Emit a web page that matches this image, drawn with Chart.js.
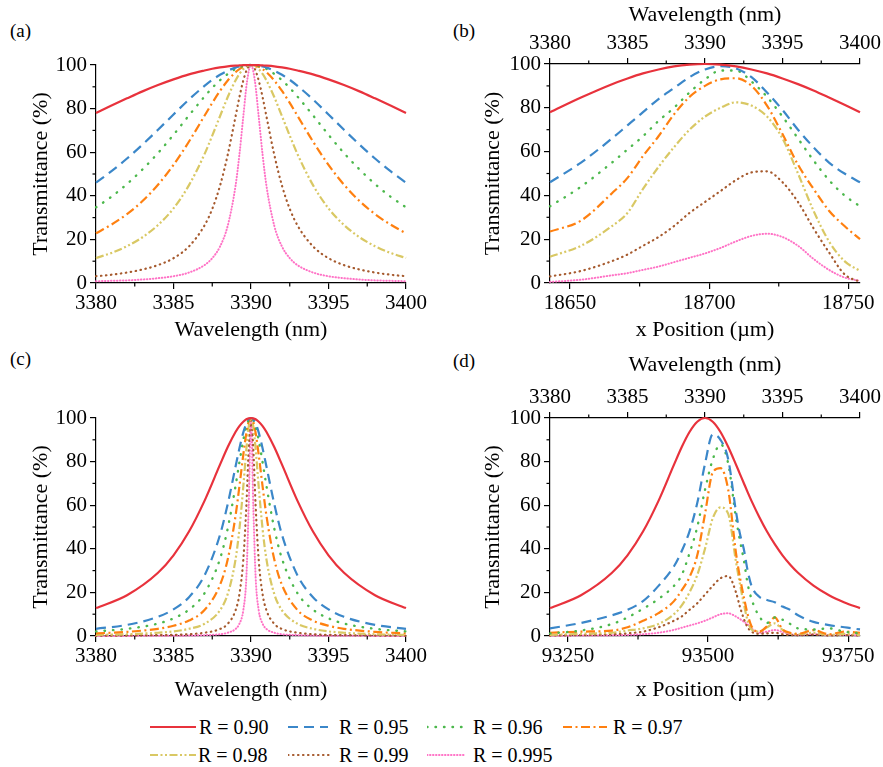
<!DOCTYPE html>
<html>
<head>
<meta charset="utf-8">
<script src="https://cdn.jsdelivr.net/npm/chart.js@4.4.0/dist/chart.umd.min.js"></script>
<style>
  body { margin: 0; background: #fff; width: 883px; height: 767px; position: relative; overflow: hidden; color: #000; }
  canvas { position: absolute; }
  .lab { position: absolute; font-family: 'Liberation Serif'; font-size: 19px; line-height: 22px; }
  .leg { position: absolute; height: 24px; }
  .leg svg { position: absolute; top: 7px; }
  .leg span { position: absolute; font-family: 'Liberation Serif'; font-size: 20px; line-height: 24px; white-space: nowrap; }
</style>
</head>
<body>
<div class="lab" style="left:10px;top:20px">(a)</div>
<div class="lab" style="left:453px;top:20px">(b)</div>
<div class="lab" style="left:10px;top:348px">(c)</div>
<div class="lab" style="left:453px;top:350px">(d)</div>

<canvas id="chartA" width="440" height="345" style="left:0;top:0"></canvas>
<canvas id="chartB" width="443" height="345" style="left:440px;top:0"></canvas>
<canvas id="chartC" width="440" height="365" style="left:0;top:340px"></canvas>
<canvas id="chartD" width="443" height="365" style="left:440px;top:340px"></canvas>
<div id="legend"></div>

<script>
// ---- données ----
const seriesLabels = ['R = 0.90', 'R = 0.95', 'R = 0.96', 'R = 0.97', 'R = 0.98', 'R = 0.99', 'R = 0.995']

// axes
const waveTicks = [3380, 3385, 3390, 3395, 3400]
const waveMinor = [3382.5, 3387.5, 3392.5, 3397.5]
const transTicks = [0, 20, 40, 60, 80, 100]
const transMinor = [10, 30, 50, 70, 90]
const posTicksB = [18650, 18700, 18750]
const posMinorB = [18675, 18725]
const posRangeB = [18642.8, 18754.2]
const posTicksD = [93250, 93500, 93750]
const posMinorD = [93375, 93625]
const posRangeD = [93218, 93771]

// (a)
const gridA = [3380, 3381, 3382, 3383, 3384, 3385, 3386, 3387, 3387.5, 3388, 3388.5, 3389, 3389.25, 3389.5, 3389.75, 3390,
  3390.25, 3390.5, 3390.75, 3391, 3391.5, 3392, 3392.5, 3393, 3394, 3395, 3396, 3397, 3398, 3399, 3400]
const a90 = [78.0, 81.4, 84.7, 87.9, 90.8, 93.4, 95.7, 97.5, 98.3, 98.9, 99.4, 99.7, 99.8, 99.9, 100, 100, 100, 99.9, 99.8, 99.7, 99.4, 98.9, 98.3, 97.5, 95.7, 93.4, 90.8, 87.9, 84.7, 81.4, 78.0]
const a95 = [46.0, 51.3, 57.1, 63.5, 70.3, 77.3, 84.2, 90.4, 93.2, 95.5, 97.4, 98.8, 99.3, 99.7, 99.9, 100, 99.9, 99.7, 99.3, 98.8, 97.4, 95.5, 93.2, 90.4, 84.2, 77.3, 70.3, 63.5, 57.1, 51.3, 46.0]
const a96 = [34.7, 39.6, 45.4, 52.1, 59.6, 68.0, 76.9, 85.5, 89.5, 93.0, 95.9, 98.2, 98.9, 99.5, 99.9, 100, 99.9, 99.5, 98.9, 98.2, 95.9, 93.0, 89.5, 85.5, 76.9, 68.0, 59.6, 52.1, 45.4, 39.6, 34.7]
const a97 = [22.8, 26.8, 31.6, 37.6, 45.1, 54.2, 64.9, 76.7, 82.6, 88.1, 92.9, 96.7, 98.1, 99.2, 99.8, 100, 99.8, 99.2, 98.1, 96.7, 92.9, 88.1, 82.6, 76.7, 64.9, 54.2, 45.1, 37.6, 31.6, 26.8, 22.8]
const a98 = [11.5, 13.8, 16.9, 21.0, 26.6, 34.2, 44.9, 59.1, 67.6, 76.5, 85.3, 92.9, 95.9, 98.1, 99.5, 100, 99.5, 98.1, 95.9, 92.9, 85.3, 76.5, 67.6, 59.1, 44.9, 34.2, 26.6, 21.0, 16.9, 13.8, 11.5]
const a99 = [3.1, 3.8, 4.8, 6.2, 8.2, 11.4, 16.8, 26.4, 34.0, 44.6, 58.9, 76.3, 85.2, 92.8, 98.1, 100, 98.1, 92.8, 85.2, 76.3, 58.9, 44.6, 34.0, 26.4, 16.8, 11.4, 8.2, 6.2, 4.8, 3.8, 3.1]
const a995 = [0.8, 1.0, 1.2, 1.6, 2.2, 3.1, 4.8, 8.2, 11.4, 16.7, 26.3, 44.5, 58.8, 76.2, 92.8, 100, 92.8, 76.2, 58.8, 44.5, 26.3, 16.7, 11.4, 8.2, 4.8, 3.1, 2.2, 1.6, 1.2, 1.0, 0.8]

// (b)
const gridB = [3380, 3382, 3384, 3385, 3386, 3387, 3388, 3389, 3390, 3391, 3392, 3393, 3394, 3395, 3396, 3397, 3398, 3399, 3400]
const b90 = [78.0, 84.7, 90.8, 93.4, 95.7, 97.5, 98.9, 99.7, 100, 99.7, 98.9, 97.5, 95.7, 93.4, 90.8, 87.9, 84.7, 81.4, 78.0]
const b95 = [46, 55, 66, 72, 78, 84, 89, 94, 97.5, 99, 98, 94, 87, 79, 70, 62, 55, 50, 46]
const b96 = [35, 44, 55, 61, 67, 74, 80, 87, 93, 97, 97, 92, 85, 76, 66, 56, 47, 40, 35]
const b97 = [23.5, 28.5, 41, 48, 58, 67, 77, 85, 90, 93, 93.5, 90, 81, 68, 54, 43, 33, 26, 20]
const b98 = [12, 17, 26, 32, 43, 53, 62, 70, 76, 80, 82.5, 81, 76, 66, 50, 33, 19, 10, 5.5]
const b99 = [3, 5.5, 10, 13, 17, 21, 26, 32, 37, 42, 47, 50.5, 51, 46, 37, 25, 14, 4, 0.5]
const b995 = [0.5, 1.5, 3.5, 4.5, 6, 7.5, 9.5, 11.5, 13.5, 16, 19, 21.5, 22.5, 21, 17, 11, 6, 2.5, 1]

// (c)
const gridC = [3380, 3382, 3384, 3385, 3386, 3387, 3388, 3388.5, 3389, 3389.25, 3389.5, 3389.7, 3389.85, 3390,
  3390.15, 3390.3, 3390.5, 3390.75, 3391, 3391.5, 3392, 3393, 3394, 3395, 3396, 3398, 3400]
const c90 = [12.8, 18.7, 29.0, 37.0, 47.9, 62.0, 78.6, 86.7, 93.6, 96.3, 98.3, 99.4, 99.85, 100, 99.85, 99.4, 98.3, 96.3, 93.6, 86.7, 78.6, 62.0, 47.9, 37.0, 29.0, 18.7, 12.8]
const c95 = [3.3, 5.1, 8.8, 12.2, 17.8, 27.8, 46.4, 60.6, 77.6, 86.0, 93.3, 97.5, 99.4, 100, 99.4, 97.5, 93.3, 86.0, 77.6, 60.6, 46.4, 27.8, 17.8, 12.2, 8.8, 5.1, 3.3]
const c96 = [2.1, 3.3, 5.7, 8.1, 12.1, 19.6, 35.4, 49.4, 68.7, 79.6, 89.8, 96.1, 99.0, 100, 99.0, 96.1, 89.8, 79.6, 68.7, 49.4, 35.4, 19.6, 12.1, 8.1, 5.7, 3.3, 2.1]
const c97 = [1.2, 1.9, 3.3, 4.7, 7.1, 11.9, 23.4, 35.2, 55.0, 68.5, 83.0, 93.1, 98.2, 100, 98.2, 93.1, 83.0, 68.5, 55.0, 35.2, 23.4, 11.9, 7.1, 4.7, 3.3, 1.9, 1.2]
const c98 = [0.5, 0.8, 1.5, 2.1, 3.3, 5.6, 11.8, 19.3, 35.0, 48.9, 68.3, 85.7, 96.0, 100, 96.0, 85.7, 68.3, 48.9, 35.0, 19.3, 11.8, 5.6, 3.3, 2.1, 1.5, 0.8, 0.5]
const c99 = [0.1, 0.2, 0.4, 0.5, 0.8, 1.5, 3.2, 5.6, 11.7, 19.1, 34.7, 59.6, 85.5, 100, 85.5, 59.6, 34.7, 19.1, 11.7, 5.6, 3.2, 1.5, 0.8, 0.5, 0.4, 0.2, 0.1]
const c995 = [0.03, 0.05, 0.1, 0.1, 0.2, 0.4, 0.8, 1.5, 3.2, 5.6, 11.7, 26.9, 59.5, 100, 59.5, 26.9, 11.7, 5.6, 3.2, 1.5, 0.8, 0.4, 0.2, 0.1, 0.1, 0.05, 0.03]

// (d)
const gridD = [3380, 3382, 3384, 3385, 3386, 3387, 3388, 3388.5, 3389, 3389.5, 3390, 3390.5, 3391, 3391.5, 3392, 3392.25,
  3392.5, 3392.75, 3393, 3393.5, 3394, 3394.5, 3395, 3395.5, 3396, 3397, 3398, 3399, 3400]
const d90 = [12.8, 18.7, 29.0, 37.0, 47.9, 62.0, 78.6, 86.7, 93.6, 98.3, 100, 98.3, 93.6, 86.7, 78.6, 74.4, 70.2, 66.0, 62.0, 54.6, 47.9, 42.1, 37.0, 32.7, 29.0, 23.1, 18.7, 15.4, 12.8]
const d95 = [3.5, 6, 9.5, 12, 16, 23, 32, 39, 48, 61, 79, 92.5, 90, 81, 57, 47, 40, 30, 23, 18, 16.5, 15.5, 13.5, 12, 9.5, 6.5, 5, 4, 3]
const d96 = [1.2, 2.5, 5.5, 8.5, 12.5, 17, 23, 28, 38, 50, 67, 81, 88, 79, 54, 44, 35, 24, 17, 9, 6, 8.5, 7.5, 5.5, 3.5, 3, 3.5, 2, 1.2]
const d97 = [1.5, 2, 2.5, 4, 7, 10.5, 16, 21, 27, 37, 56, 75, 77, 67, 38, 27, 18, 10, 4.5, 2, 4.5, 8.5, 3, 1.5, 1, 2.7, 0.8, 2, 1.5]
const d98 = [0.5, 1, 1.5, 2.5, 3.5, 5.5, 10, 14, 20, 28, 40, 54, 59, 56, 34, 24, 15, 7, 3, 2, 4, 5.8, 2.8, 1, 0.8, 1.5, 0.5, 1, 0.5]
const d99 = [0.2, 0.4, 0.8, 1.2, 2, 4, 7, 9, 12, 15, 19, 23, 26.5, 27.5, 20, 13.5, 8, 4, 2, 1, 1.2, 1.5, 0.8, 0.4, 0.3, 0.6, 0.2, 0.4, 0.2]
const d995 = [0.1, 0.2, 0.3, 0.5, 0.8, 1.5, 2.8, 3.8, 4.8, 5.8, 7, 8.5, 10, 10.4, 8.9, 7.8, 6.6, 5.3, 3.5, 1.5, 2, 2.8, 1.8, 0.8, 0.5, 0.8, 0.3, 0.5, 0.2]

// ---- styles des courbes ----
const styles = [
  { color: '#e8323c', dash: [], width: 2.2, cap: 'butt' },
  { color: '#3b87c9', dash: [10, 6], width: 2.2, cap: 'butt' },
  { color: '#4cb84c', dash: [0.5, 8], width: 2.4, cap: 'round' },
  { color: '#ff8010', dash: [9, 3.5, 2, 3.5], width: 2.2, cap: 'butt' },
  { color: '#d9c864', dash: [8, 2.5, 2, 2.5, 2, 2.5], width: 2.2, cap: 'butt' },
  { color: '#a65a2e', dash: [0.5, 4.5], width: 2.2, cap: 'round' },
  { color: '#ff73c6', dash: [0.5, 2.5], width: 2, cap: 'round' }
]

const FAMILY = 'Liberation Serif'
Chart.defaults.font.family = FAMILY
Chart.defaults.color = '#000'
const tickFont = { family: FAMILY, size: 21 }
const titleFont = { family: FAMILY, size: 22 }

function lines(grid, series) {
  return series.map((ys, i) => ({
    label: seriesLabels[i],
    data: grid.map((x, k) => ({ x: x, y: ys[k] })),
    borderColor: styles[i].color,
    borderWidth: styles[i].width,
    borderDash: styles[i].dash,
    borderCapStyle: styles[i].cap,
    pointRadius: 0,
    cubicInterpolationMode: 'monotone',
    fill: false,
    clip: 4
  }))
}

const gridOpts = { drawOnChartArea: false, drawTicks: true, tickLength: 6, color: '#000', lineWidth: 1.2 }
const borderOpts = { display: true, color: '#000', width: 1.2 }

function axisH(position, range, major, title, size, titlePad) {
  return {
    type: 'linear', axis: 'x', position: position, min: range[0], max: range[1],
    afterBuildTicks: s => { s.ticks = major.map(v => ({ value: v })) },
    afterFit: s => { s.height = size },
    ticks: { font: tickFont, color: '#000', padding: 2, maxRotation: 0, autoSkip: false, callback: v => String(v) },
    grid: gridOpts, border: borderOpts,
    title: { display: true, text: title, font: titleFont, color: '#000', padding: titlePad }
  }
}

function axisY(size, titlePad) {
  return {
    type: 'linear', position: 'left', min: 0, max: 100,
    afterBuildTicks: s => { s.ticks = transTicks.map(v => ({ value: v })) },
    afterFit: s => { s.width = size },
    ticks: { font: tickFont, color: '#000', padding: 3, callback: v => String(v) },
    grid: gridOpts, border: borderOpts,
    title: { display: true, text: 'Transmittance (%)', font: titleFont, color: '#000', padding: { top: titlePad, bottom: 0 } }
  }
}

// petits traits secondaires des axes
function minorPlugin(spec) {
  return {
    id: 'minorTicks',
    afterDraw(chart) {
      const ctx = chart.ctx, a = chart.chartArea
      ctx.save()
      ctx.strokeStyle = '#000'
      ctx.lineWidth = 1.2
      for (const id in spec) {
        const sc = chart.scales[id]
        spec[id].forEach(v => {
          const p = sc.getPixelForValue(v)
          ctx.beginPath()
          if (sc.position === 'left') { ctx.moveTo(a.left - 3.5, p); ctx.lineTo(a.left, p) }
          else if (sc.position === 'top') { ctx.moveTo(p, a.top - 3.5); ctx.lineTo(p, a.top) }
          else { ctx.moveTo(p, a.bottom); ctx.lineTo(p, a.bottom + 3.5) }
          ctx.stroke()
        })
      }
      ctx.restore()
    }
  }
}

function buildChart(id, datasets, scales, padding, minor) {
  return new Chart(document.getElementById(id), {
    type: 'line',
    data: { datasets: datasets },
    options: {
      responsive: false, animation: false, events: [],
      layout: { padding: padding },
      plugins: { legend: { display: false }, tooltip: { enabled: false } },
      scales: scales
    },
    plugins: [minorPlugin(minor)]
  })
}

// (a)
buildChart('chartA', lines(gridA, [a90, a95, a96, a97, a98, a99, a995]), {
  x: axisH('bottom', [3380, 3400], waveTicks, 'Wavelength (nm)', 62, { top: 0, bottom: 2 }),
  y: axisY(96, 28)
}, { top: 65, right: 34, left: 0, bottom: 0 }, { x: waveMinor, y: transMinor })

// (b)
buildChart('chartB', lines(gridB, [b90, b95, b96, b97, b98, b99, b995]), {
  x: axisH('top', [3380, 3400], waveTicks, 'Wavelength (nm)', 64, { top: 2, bottom: 0 }),
  pos: axisH('bottom', posRangeB, posTicksB, 'x Position (\u00b5m)', 62, { top: 0, bottom: 2 }),
  y: axisY(110, 40)
}, { top: 0, right: 22, left: 0, bottom: 0 }, { x: waveMinor, pos: posMinorB, y: transMinor })

// (c)
buildChart('chartC', lines(gridC, [c90, c95, c96, c97, c98, c99, c995]), {
  x: axisH('bottom', [3380, 3400], waveTicks, 'Wavelength (nm)', 69, { top: 0, bottom: 2 }),
  y: axisY(96, 28)
}, { top: 78, right: 34, left: 0, bottom: 0 }, { x: waveMinor, y: transMinor })

// (d)
buildChart('chartD', lines(gridD, [d90, d95, d96, d97, d98, d99, d995]), {
  x: axisH('top', [3380, 3400], waveTicks, 'Wavelength (nm)', 78, { top: 12, bottom: 0 }),
  pos: axisH('bottom', posRangeD, posTicksD, 'x Position (\u00b5m)', 69, { top: 0, bottom: 2 }),
  y: axisY(110, 40)
}, { top: 0, right: 22, left: 0, bottom: 0 }, { x: waveMinor, pos: posMinorD, y: transMinor })

// ---- légende commune ----
const legendSpots = [[150, 727, 46, 199], [288, 727, 40, 339], [427, 727, 38, 473], [563, 727, 44, 613],
  [150, 755, 46, 198], [288, 755, 44, 339], [427, 755, 39, 473]]
const legend = document.getElementById('legend')
seriesLabels.forEach((lab, i) => {
  const [sx, cy, w, tx] = legendSpots[i]
  const st = styles[i]
  const item = document.createElement('div')
  item.className = 'leg'
  item.style.left = '0px'
  item.style.top = (cy - 12) + 'px'
  item.innerHTML =
    '<svg width="' + w + '" height="10" style="left:' + sx + 'px"><line x1="0" y1="5" x2="' + w + '" y2="5" stroke="' + st.color +
    '" stroke-width="' + st.width + '" stroke-linecap="' + st.cap + '" stroke-dasharray="' + st.dash.join(' ') + '"/></svg>' +
    '<span style="left:' + tx + 'px">' + lab + '</span>'
  legend.appendChild(item)
})
</script>
</body>
</html>
